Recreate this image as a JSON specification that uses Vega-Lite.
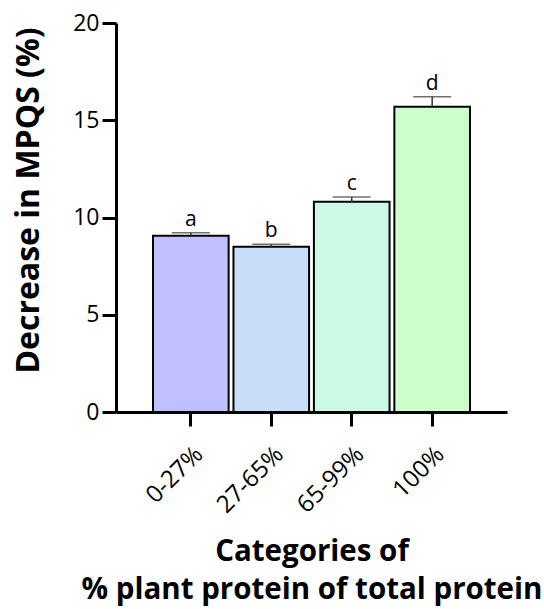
{
  "$schema": "https://vega.github.io/schema/vega-lite/v6.json",
  "width": 391,
  "height": 389,
  "autosize": {"type": "none"},
  "padding": {"left": 116, "top": 23, "right": 37, "bottom": 197},
  "background": "white",
  "config": {
    "view": {"stroke": null},
    "font": "Open Sans",
    "axis": {"grid": false, "domainColor": "black", "tickColor": "black", "labelColor": "black", "titleColor": "black", "domainWidth": 3, "tickWidth": 3, "tickSize": 14, "labelFont": "Open Sans", "titleFont": "Open Sans", "labelFontSize": 23, "titleFontSize": 29.5, "titleFontWeight": "bold"}
  },
  "data": {
    "values": [
      {"cat": "0-27%", "mean": 9.06, "upper": 9.22, "letter": "a"},
      {"cat": "27-65%", "mean": 8.5, "upper": 8.62, "letter": "b"},
      {"cat": "65-99%", "mean": 10.81, "upper": 11.05, "letter": "c"},
      {"cat": "100%", "mean": 15.7, "upper": 16.21, "letter": "d"}
    ]
  },
  "encoding": {
    "x": {
      "field": "cat", "type": "nominal", "sort": null,
      "scale": {"paddingInner": 0.06, "paddingOuter": 0.46},
      "axis": {"labelAngle": -45, "labelPadding": 16, "labelFontSize": 24, "title": ["Categories of", "% plant protein of total protein"], "titlePadding": 20, "titleLineHeight": 38}
    }
  },
  "layer": [
    {
      "mark": {"type": "bar", "stroke": "black", "strokeWidth": 2},
      "encoding": {
        "y": {"field": "mean", "type": "quantitative", "scale": {"domain": [0, 20]},
          "axis": {"values": [0, 5, 10, 15, 20], "labelPadding": 3, "title": "Decrease in MPQS (%)", "titleFontSize": 32, "titleX": -88, "titleY": 177, "titleBaseline": "middle"}},
        "color": {"field": "cat", "type": "nominal", "sort": null, "legend": null,
          "scale": {"domain": ["0-27%", "27-65%", "65-99%", "100%"], "range": ["#c0c0ff", "#c8def8", "#ccf8e6", "#ccffcc"]}}
      }
    },
    {
      "mark": {"type": "rule", "color": "#333333", "strokeWidth": 1.5},
      "encoding": {"y": {"field": "mean", "type": "quantitative"}, "y2": {"field": "upper"}}
    },
    {
      "mark": {"type": "tick", "color": "#333333", "size": 38, "thickness": 1.5, "orient": "horizontal"},
      "encoding": {"y": {"field": "upper", "type": "quantitative"}}
    },
    {
      "mark": {"type": "text", "baseline": "alphabetic", "dy": -7, "fontSize": 21, "color": "black"},
      "encoding": {"y": {"field": "upper", "type": "quantitative"}, "text": {"field": "letter"}}
    }
  ]
}
